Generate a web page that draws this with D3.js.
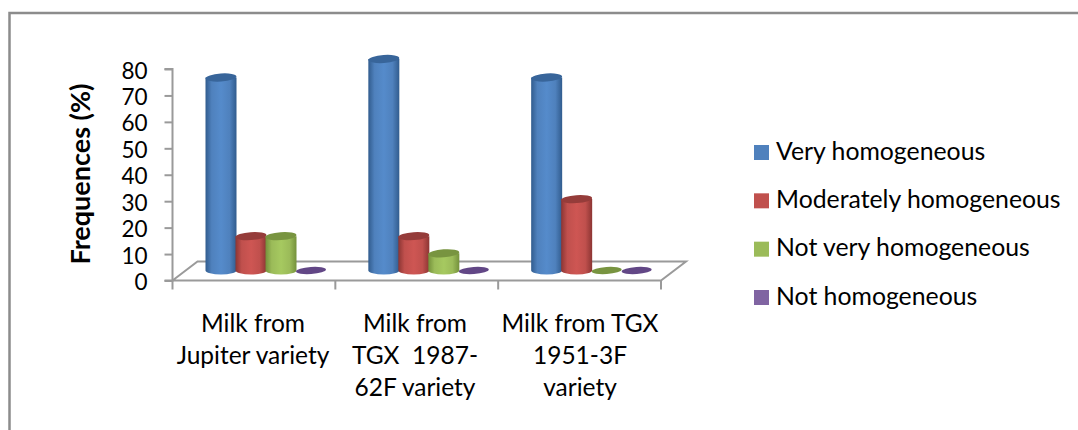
<!DOCTYPE html>
<html><head><meta charset="utf-8">
<script src="https://cdnjs.cloudflare.com/ajax/libs/d3/7.8.5/d3.min.js"></script>
<style>html,body{margin:0;padding:0;background:#fff}svg{display:block}text{font-family:Lato,"Open Sans",sans-serif;fill:#000}</style>
</head><body><div id="chart"></div>
<script>
const categories = [["Milk from","Jupiter variety"],["Milk from","TGX  1987-","62F variety"],["Milk from TGX","1951-3F","variety"]];
const seriesNames = ["Very homogeneous","Moderately homogeneous","Not very homogeneous","Not homogeneous"];
const veryHomogeneous = [73,80,73];
const moderatelyHomogeneous = [13,13,27];
const notVeryHomogeneous = [13,6.5,0];
const notHomogeneous = [0,0,0];
const yTicks = [0,10,20,30,40,50,60,70,80];
const seriesValues = [veryHomogeneous,moderatelyHomogeneous,notVeryHomogeneous,notHomogeneous];
const colors = [
 {main:"#4f81bd",dark:"#315c8e",top:"#38659a",legend:"#4f81bd"},
 {main:"#c0504d",dark:"#8c3533",top:"#953c3a",legend:"#c0504d"},
 {main:"#9bbb59",dark:"#74913b",top:"#789440",legend:"#9bbb59"},
 {main:"#8064a2",dark:"#583f78",top:"#624786",legend:"#8064a2"}];

const W=1078,H=430;
const svg=d3.select("#chart").append("svg").attr("width",W).attr("height",H);
const defs=svg.append("defs");
colors.forEach((c,i)=>{
  const g=defs.append("linearGradient").attr("id","cyl"+i);
  g.append("stop").attr("offset","0%").attr("stop-color",c.dark);
  g.append("stop").attr("offset","20%").attr("stop-color",c.main);
  g.append("stop").attr("offset","50%").attr("stop-color",d3.color(c.main).brighter(0.2));
  g.append("stop").attr("offset","78%").attr("stop-color",c.main);
  g.append("stop").attr("offset","100%").attr("stop-color",c.dark);
});

// frame
svg.append("path").attr("d","M9.5,430V13H1078").attr("fill","none").attr("stroke","#8c8c8c").attr("stroke-width",2.5);

const axisLeft=172.5, axisRight=661, axisTop=69, axisBottom=280.5, depthX=25, depthY=19;
const y=d3.scaleLinear().domain([0,80]).range([axisBottom,axisTop]);
const x0=d3.scaleBand().domain(d3.range(categories.length)).range([axisLeft,axisRight]);
const axisColor="#9a9a9a";

// floor
svg.append("path").attr("fill","#fff").attr("stroke",axisColor).attr("stroke-width",2)
 .attr("d",`M${axisLeft},${axisBottom}L${axisLeft+depthX},${axisBottom-depthY}H${axisRight+depthX}L${axisRight},${axisBottom}Z`);

// value axis
const yAxis=svg.append("g").attr("transform",`translate(${axisLeft},0)`)
 .call(d3.axisLeft(y).tickValues(yTicks).tickSize(8).tickPadding(17));
yAxis.select(".domain").attr("stroke",axisColor).attr("stroke-width",2).attr("d",`M-8,${axisTop}H0V${axisBottom}H-8`);
yAxis.selectAll("line").attr("stroke",axisColor).attr("stroke-width",2);
yAxis.selectAll("text").attr("font-size",22.5).attr("dy","0.4em").style("font-family","Lato");

// category ticks
const catTicks=d3.range(categories.length+1).map(i=>axisLeft+i*x0.bandwidth());
svg.append("g").selectAll("line").data(catTicks).join("line")
 .attr("x1",d=>d).attr("x2",d=>d).attr("y1",axisBottom).attr("y2",axisBottom+9)
 .attr("stroke",axisColor).attr("stroke-width",2);

// cylinders
const unit=y(0)-y(1), base=y(0)-10;
const barStep=30, rx=15.5, ry=4;
categories.forEach((c,ci)=>{
 seriesValues.forEach((vals,si)=>{
  const cx=x0(ci)+33+si*barStep+rx;
  const v=vals[ci], h=v*unit;
  const g=svg.append("g");
  if(v>0){
   g.append("path").attr("fill",`url(#cyl${si})`)
    .attr("d",`M${cx-rx},${base-h}V${base}A${rx},${ry} 0 0 0 ${cx+rx},${base}V${base-h}Z`);
  }
  g.append("ellipse").attr("cx",cx).attr("cy",base-h).attr("rx",rx-(v>0?0:0.5)).attr("ry",v>0?ry:3.5)
   .attr("fill",colors[si].top).attr("transform",`rotate(-4 ${cx} ${base-h})`);
 });
});

// category labels
const labelX=[253,415,580];
categories.forEach((lines,i)=>{
 const t=svg.append("text").attr("text-anchor","middle").attr("font-size",24.5);
 lines.forEach((l,j)=>t.append("tspan").style("white-space","pre").attr("x",labelX[i]).attr("y",332+j*32).text(l));
});

// y title
svg.append("text").attr("transform","translate(90,174) rotate(-90)").attr("text-anchor","middle")
 .attr("font-size",27).attr("font-weight",700).text("Frequences (%)");

// legend
const legendY=d3.scalePoint().domain(seriesNames).range([152.5,297.5]);
const leg=svg.append("g").selectAll("g").data(seriesNames).join("g").attr("transform",d=>`translate(754,${legendY(d)})`);
leg.append("rect").attr("y",-7.5).attr("width",15).attr("height",15).attr("fill",(d,i)=>colors[i].legend);
leg.append("text").attr("x",22).attr("y",7).attr("font-size",24.8).text(d=>d);
</script></body></html>
